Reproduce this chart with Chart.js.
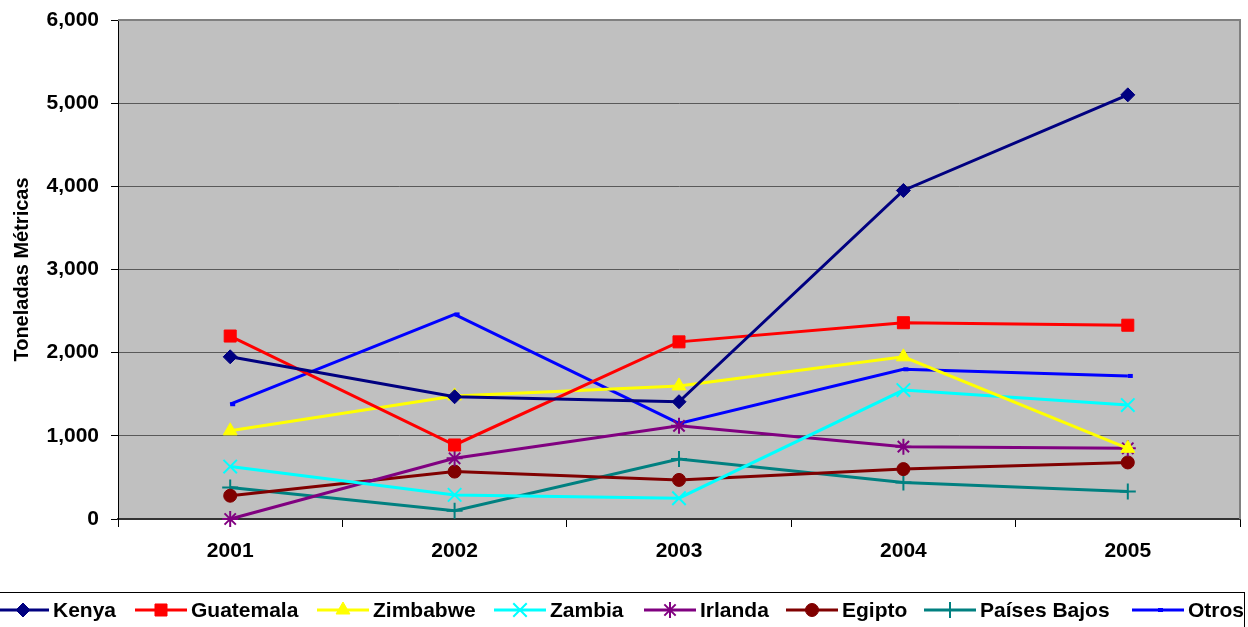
<!DOCTYPE html>
<html>
<head>
<meta charset="utf-8">
<script src="https://cdn.jsdelivr.net/npm/chart.js@4.4.0/dist/chart.umd.min.js"></script>
<style>
  html, body { margin: 0; padding: 0; background: #ffffff; }
  #wrap { width: 1248px; height: 627px; }
</style>
</head>
<body>
<div id="wrap"><canvas id="chart" width="1248" height="627"></canvas></div>
<script>
// --- Data ---
var years = ['2001', '2002', '2003', '2004', '2005'];
var kenya = [1950, 1470, 1410, 3950, 5100];
var guatemala = [2200, 890, 2130, 2360, 2330];
var zimbabwe = [1060, 1480, 1600, 1950, 850];
var zambia = [630, 290, 250, 1550, 1370];
var irlanda = [0, 730, 1120, 870, 850];
var egipto = [280, 570, 470, 600, 680];
var paisesBajos = [380, 100, 720, 440, 330];
var otros = [1380, 2460, 1150, 1800, 1720];
var yTicks = [0, 1000, 2000, 3000, 4000, 5000, 6000];

var FONT = 'Arial, "Liberation Sans", sans-serif';

function series(label, data, color, style, radius, bw) {
    return {
        label: label,
        data: data,
        borderColor: color,
        backgroundColor: color,
        borderWidth: 3,
        tension: 0,
        pointStyle: style,
        pointRadius: radius,
        pointHoverRadius: radius,
        pointBackgroundColor: color,
        pointBorderColor: color,
        pointBorderWidth: bw,
        clip: false
    };
}

var datasets = [
    series('Kenya', kenya, '#000080', 'rectRot', 7, 1),
    series('Guatemala', guatemala, '#FF0000', 'rect', 8.5, 1),
    series('Zimbabwe', zimbabwe, '#FFFF00', 'triangle', 8, 1),
    series('Zambia', zambia, '#00FFFF', 'crossRot', 9.5, 2),
    series('Irlanda', irlanda, '#800080', 'star', 8, 2),
    series('Egipto', egipto, '#800000', 'circle', 6.5, 1),
    series('Países Bajos', paisesBajos, '#008080', 'cross', 8, 2),
    series('Otros', otros, '#0000FF', 'dash', 5, 4)
];

var legendX = [-3, 135, 317, 494, 644, 786, 924, 1132];

// --- Plugins ---
var plotBackground = {
    id: 'plotBackground',
    beforeDraw: function (chart) {
        var a = chart.chartArea, ctx = chart.ctx;
        ctx.save();
        ctx.fillStyle = '#C0C0C0';
        ctx.fillRect(a.left, a.top, a.right - a.left, a.bottom - a.top);
        ctx.restore();
    },
    beforeDatasetsDraw: function (chart) {
        var a = chart.chartArea, ctx = chart.ctx;
        ctx.save();
        ctx.strokeStyle = '#808080';
        ctx.lineWidth = 2;
        ctx.beginPath();
        ctx.moveTo(a.left, a.top);
        ctx.lineTo(a.right, a.top);
        ctx.lineTo(a.right, a.bottom);
        ctx.stroke();
        ctx.restore();
    }
};

function marker(ctx, ds, x, y) {
    ctx.save();
    ctx.fillStyle = ds.pointBackgroundColor;
    ctx.strokeStyle = ds.pointBorderColor;
    ctx.lineWidth = ds.pointBorderWidth;
    if (Chart.helpers && Chart.helpers.drawPoint) {
        Chart.helpers.drawPoint(ctx, {
            pointStyle: ds.pointStyle,
            radius: ds.pointRadius,
            rotation: 0,
            borderWidth: ds.pointBorderWidth
        }, x, y);
    }
    ctx.restore();
}

var bottomLegend = {
    id: 'bottomLegend',
    afterDraw: function (chart) {
        var ctx = chart.ctx;
        var y = 610;
        ctx.save();
        ctx.fillStyle = '#ffffff';
        ctx.fillRect(0, 592, 1245, 40);
        ctx.strokeStyle = '#000000';
        ctx.lineWidth = 1;
        ctx.strokeRect(-1.5, 592.5, 1246, 40);
        chart.data.datasets.forEach(function (ds, i) {
            var x0 = legendX[i];
            ctx.strokeStyle = ds.borderColor;
            ctx.lineWidth = 3;
            ctx.beginPath();
            ctx.moveTo(x0, y);
            ctx.lineTo(x0 + 52, y);
            ctx.stroke();
            marker(ctx, ds, x0 + 26, y);
            ctx.fillStyle = '#000000';
            ctx.font = 'bold 21px ' + FONT;
            ctx.textBaseline = 'middle';
            ctx.textAlign = 'left';
            ctx.fillText(ds.label, x0 + 56, y + 1);
        });
        ctx.restore();
    }
};

// --- Chart ---
new Chart(document.getElementById('chart'), {
    type: 'line',
    data: { labels: years, datasets: datasets },
    plugins: [plotBackground, bottomLegend],
    options: {
        responsive: false,
        animation: false,
        devicePixelRatio: 1,
        layout: {
            autoPadding: false,
            padding: { left: 0, top: 20, right: 8, bottom: 58 }
        },
        plugins: {
            legend: { display: false },
            tooltip: { enabled: false }
        },
        scales: {
            x: {
                type: 'category',
                offset: true,
                afterFit: function (scale) {
                    scale.height = 50;
                    scale.paddingLeft = 0;
                    scale.paddingRight = 0;
                },
                grid: {
                    display: true,
                    offset: true,
                    drawOnChartArea: false,
                    drawTicks: true,
                    tickLength: 8,
                    tickColor: '#000000'
                },
                border: { display: true, color: '#333333', width: 2 },
                ticks: {
                    color: '#000000',
                    padding: 12,
                    maxRotation: 0,
                    font: { family: FONT, size: 21, weight: 'bold' }
                }
            },
            y: {
                min: 0,
                max: 6000,
                afterFit: function (scale) {
                    scale.width = 118;
                    scale.paddingTop = 0;
                    scale.paddingBottom = 0;
                },
                afterBuildTicks: function (scale) {
                    scale.ticks = yTicks.map(function (v) { return { value: v }; });
                },
                grid: {
                    color: '#595959',
                    lineWidth: 1,
                    tickLength: 7,
                    tickColor: '#000000'
                },
                border: { display: true, color: '#000000', width: 1 },
                ticks: {
                    color: '#000000',
                    padding: 12,
                    font: { family: FONT, size: 21, weight: 'bold' },
                    callback: function (v) { return v.toLocaleString('en-US'); }
                },
                title: {
                    display: true,
                    text: 'Toneladas Métricas',
                    color: '#000000',
                    padding: { top: 10, bottom: 4 },
                    font: { family: FONT, size: 20, weight: 'bold' }
                }
            }
        }
    }
});
</script>
</body>
</html>
